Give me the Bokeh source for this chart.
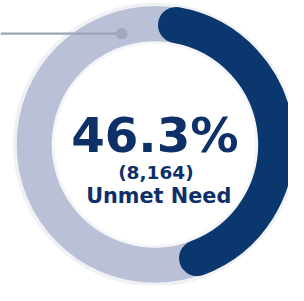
import math
from bokeh.plotting import figure
from bokeh.models import Range1d
from bokeh.core.properties import value
from bokeh.embed import file_html
from bokeh.resources import INLINE

# ---- data ----
categories = ["Unmet Need", "Met Need"]
percent_values = [46.3, 53.7]
count_values = [8164]
center_label = ["Unmet Need"]

# ---- layout: reference is 304x301, drawn into a 288x285 figure ----
W, H = 288, 285
IMG_W, IMG_H = 304, 301
S = W / IMG_W  # pixel scale for widths / font sizes

def Y(yimg):
    return IMG_H - yimg

p = figure(width=W, height=H, output_backend="svg", toolbar_location=None,
           x_range=Range1d(0, IMG_W), y_range=Range1d(0, IMG_H),
           min_border=0, outline_line_color=None)
p.axis.visible = False
p.grid.visible = False
p.background_fill_color = "white"
p.border_fill_color = "white"

cx, cy = 163, Y(152)
R_out, R_in = 146, 109

# soft halo
p.annulus(x=[cx], y=[cy], inner_radius=R_out, outer_radius=R_out + 4,
          fill_color="#eceef3", line_color=None, fill_alpha=0.8)
p.annulus(x=[cx], y=[cy], inner_radius=R_in - 3, outer_radius=R_in,
          fill_color="#f1f2f6", line_color=None, fill_alpha=0.8)

# background ring
p.annulus(x=[cx], y=[cy], inner_radius=R_in, outer_radius=R_out,
          fill_color="#bac0d5", line_color=None)

# value arc (round caps)
thick = 38
r_mid = (R_in + R_out) / 2 + 0.5
cap_deg = math.degrees((thick / 2) / r_mid)
offset = 1.5
span = percent_values[0] / 100 * 360
start_cw = offset + cap_deg
end_cw = offset + span - cap_deg
p.arc(x=[cx], y=[cy], radius=r_mid,
      start_angle=math.radians(90 - start_cw), end_angle=math.radians(90 - end_cw),
      direction="clock", line_color="#0b376f", line_width=thick * S, line_cap="round")

# leader line + dot
p.line(x=[0, 128], y=[Y(35), Y(35)], line_color="#9ea4b8", line_width=2.5 * S)
p.scatter(x=[128], y=[Y(35)], size=12 * S, marker="circle",
          fill_color="#a3a9bb", line_color=None)

# center texts
navy = "#0e3068"
def px(v):
    return f"{v * S:.1f}px"

p.text(x=[163], y=[Y(142)], text=[f"{percent_values[0]:.1f}%"],
       text_font=value("DejaVu Sans"), text_font_style="bold",
       text_font_size=px(51), text_align="center", text_baseline="alphabetic",
       text_color=navy)
p.text(x=[164], y=[Y(182)], text=[f"({count_values[0]:,})"],
       text_font=value("DejaVu Sans"), text_font_style="bold",
       text_font_size=px(19.5), text_align="center", text_baseline="alphabetic",
       text_color=navy)
p.text(x=[167], y=[Y(207)], text=center_label,
       text_font=value("DejaVu Sans"), text_font_style="bold",
       text_font_size=px(22), text_align="center", text_baseline="alphabetic",
       text_color=navy)

open("out.html", "w").write(file_html(p, INLINE))
